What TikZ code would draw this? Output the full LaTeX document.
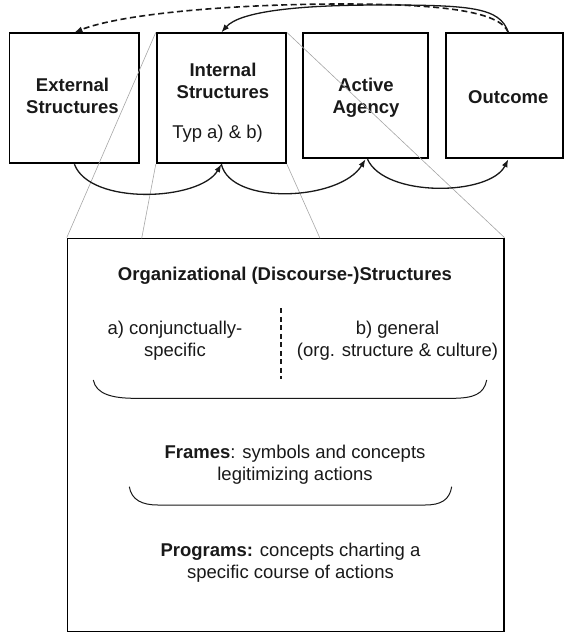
\documentclass[tikz,border=0pt]{standalone}
\usepackage{fontspec}
\setmainfont{Liberation Sans}
\usetikzlibrary{arrows.meta}
\definecolor{ink}{RGB}{25,25,25}
\begin{document}
\begin{tikzpicture}[x=1pt,y=1pt,
  box/.style={draw=black, line width=1.8pt, inner sep=0pt},
  bigbox/.style={draw=black, line width=1.4pt, inner sep=0pt},
  txt/.style={font=\fontsize{18.5pt}{22pt}\selectfont, align=center, inner sep=0pt, text=ink},
  txtb/.style={font=\fontsize{18.5pt}{22pt}\selectfont\bfseries, align=center, inner sep=0pt, text=ink},
  flow/.style={draw=ink, line width=1.3pt, -{Latex[length=8pt,width=6pt]}},
  back/.style={flow, line width=1.6pt, dash pattern=on 6pt off 3.5pt},
  zoomline/.style={draw=black!35, line width=0.6pt},
  brace/.style={draw=ink, line width=1pt},
  divider/.style={draw=ink, line width=1.7pt, dash pattern=on 5pt off 3.5pt},
]
\useasboundingbox (0,0) rectangle (565,-633);
% top row boxes
\node[box, minimum width=129.8pt, minimum height=130pt] (ext) at (74.4,-98.3) {};
\node[box, minimum width=129.3pt, minimum height=130pt] (int) at (221.35,-98.3) {};
\node[box, minimum width=125.6pt, minimum height=125pt] (act) at (365.5,-95.8) {};
\node[box, minimum width=117.6pt, minimum height=125pt] (out) at (504.5,-95.8) {};
% big box
\node[bigbox, minimum width=436.3pt, minimum height=393.4pt] (big) at (285.65,-435) {};
% texts
\node[txtb] (extT) at (72.5,-96) {External\\Structures};
\node[txtb] (intT) at (223,-81.2) {Internal\\Structures};
\node[txt] (typT) at (217.5,-133.5) {Typ a) \& b)};
\node[txtb] (actT) at (366,-98) {Active\\Agency};
\node[txtb] (outT) at (508.3,-97.2) {Outcome};
\node[txtb] (orgT) at (285,-276.2) {Organizational (Discourse-)Structures};
\node[txt] (aT) at (175,-341) {a) conjunctually-\\specific};
\node[txt] (bT) at (397.5,-341) {b) general\\(org. structure \& culture)};
\node[txt] (frT) at (295,-464.5) {\textbf{Frames}: symbols and concepts\\legitimizing actions};
\node[txt] (prT) at (290.5,-563.2) {\textbf{Programs:} concepts charting a\\specific course of actions};
% divider
\coordinate (dTop) at (280.7,-308.3);
\coordinate (dBot) at (280.7,-379.3);
\draw[divider] (dTop) -- (dBot);
% brackets
\draw[brace] (93.3,-380) .. controls (96,-394) and (112,-398.3) .. (135,-398.3) -- (452,-398.3) .. controls (474,-398.3) and (484,-394) .. (486.7,-380);
\draw[brace] (129.3,-486.7) .. controls (131.5,-500) and (142,-505) .. (158,-505) -- (425,-505) .. controls (441,-505) and (449.5,-500) .. (451.7,-486.7);
% zoom lines
\coordinate (b2) at (141.7,-238.3);
\coordinate (b3) at (320,-238.3);
\draw[zoomline] (int.north west) -- (big.north west);
\draw[zoomline] (int.south west) -- (b2);
\draw[zoomline] (int.south east) -- (b3);
\draw[zoomline] (int.north east) -- (big.north east);
% top curves
\coordinate (pS) at (380,-5);
\coordinate (pD) at (343,-4);
\draw[flow] ([xshift=3.8pt]out.north) .. controls +(-8.3,25.3) and +(90,0) .. (pS) .. controls +(-80,0) and +(18.7,21.3) .. (int.north);
\draw[back] ([xshift=3.8pt]out.north) .. controls +(-8.3,21.3) and +(97,0) .. (pD) .. controls +(-113,0) and +(45.6,18.3) .. (ext.north);
% bottom arcs
\draw[flow] (ext.south) .. controls +(15.6,-41.7) and +(-21.3,-36.7) .. (int.south);
\draw[flow] (int.south) .. controls +(9.7,-41.7) and +(-25.5,-41.7) .. (act.south);
\draw[flow] ([xshift=2pt]act.south) .. controls +(17.5,-38.7) and +(-18.3,-36.7) .. ([xshift=3.8pt]out.south);
\end{tikzpicture}
\end{document}
